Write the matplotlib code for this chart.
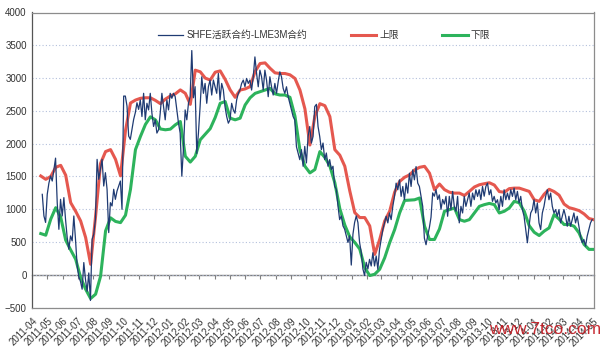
import matplotlib
matplotlib.use('Agg')
import matplotlib.pyplot as plt
import matplotlib.dates as mdates
import pandas as pd

# ---------------- data ----------------
spread_start = '2011-04-21'
spread_freq = '80h'
spread = [1228, 898, 800, 1230, 1400, 1508, 1431, 1609, 1780, 1100, 695, 1152, 898, 1178, 848, 569, 391, 594, 518, 898,
          543, 137, -30, -100, -218, 188, -66, -250, 30, -390, 543, 619, 848, 1761, 1457, 1609, 1761, 1355, 1558, 1305,
          645, 1101, 1051, 1305, 1152, 1279, 1355, 1431, 1000, 2726, 2726, 2574, 2117, 2066, 2218, 2370, 2472, 2624, 2523,
          2667, 2414, 2768, 2364, 2616, 2515, 2768, 2465, 2263, 2364, 2162, 2212, 2465, 2768, 2566, 2364, 2667, 2515, 2768,
          2692, 2768, 2717, 2515, 2313, 2162, 1505, 1930, 2515, 2364, 2616, 2717, 3420, 2700, 2869, 1850, 2162, 2566, 3020,
          2768, 2919, 2616, 2869, 2970, 2742, 2970, 2869, 2768, 3070, 2667, 2919, 2818, 2566, 2414, 2313, 2364, 2616, 2515,
          2465, 2667, 2768, 2818, 2919, 2970, 2869, 2995, 2919, 2970, 2818, 3020,
          3323, 3070, 2868, 3121, 3020, 2818, 3121, 2969, 2717, 3020, 2868, 2742, 2919, 2767, 2944, 3096, 3020, 2843, 2767,
          2868, 2717, 2616, 2515, 2414, 2363, 1954, 1858, 1757, 1909, 1656, 1959, 1707, 2111, 2262, 2010, 2111, 2565, 2600,
          2262, 2111, 1909, 2010, 1757, 1858, 1656, 1757, 1606, 1656, 1353, 1303, 1050, 843, 899, 747, 697, 596, 495, 596,
          150, 620, 798, 899, 798, 495, 343, 91, -10, 192, 91,
          237, 136, 338, 136, 288, 86, 389, 540, 692, 793, 894, 793, 944, 843, 1045, 1197, 1399, 1298, 1449, 1197, 1348,
          1146, 1399, 1247, 1550, 1348, 1601, 1449, 1651, 1399, 1348, 1197, 1045, 560, 460, 600, 720, 880, 1250, 1200, 1300,
          1150, 1220, 1000, 1150, 1080, 1197, 894, 1197, 995, 1273, 1045, 970, 1197, 793, 1045, 944, 1197, 1045, 1146, 1247,
          1045, 1247, 1146, 1298, 1197, 1298, 1146, 1348,
          1200, 1348, 1399, 1222, 1298, 1121, 1197, 1096, 1146, 995, 1197, 1045, 1298, 1146, 1247, 1146, 1298, 1197, 1323,
          1146, 1273, 1096, 1197, 995, 894, 692, 490, 742, 944, 995, 1146, 944, 1096, 793, 692, 944, 1045, 1197, 1298, 1146,
          1247, 1045, 944, 995, 894, 995, 793, 894, 995, 894, 742, 894, 742, 843, 944, 793, 894, 742, 591, 490, 540, 439,
          591, 692, 793, 843]

band_start = '2011-04-18'
band_freq = '10D'
upper = [1508, 1457, 1500, 1640, 1670, 1520, 1101, 970, 822, 570, 162, 898, 1700, 1880, 1910, 1761, 1510, 2200, 2620,
         2665, 2692, 2700, 2700, 2660, 2610, 2680, 2727, 2760, 2820, 2768, 2600, 3121, 3096, 3000, 2970, 3090, 3110, 2980,
         2820, 2707, 2818, 2835, 2870, 3100, 3222, 3232, 3150, 3080, 3070, 3070, 3050, 2995, 2818, 2530, 1980, 2420, 2610,
         2580, 2414, 1909, 1825, 1656, 1280, 949, 874, 874, 747, 313, 540, 820, 970, 1260, 1424, 1488, 1525, 1600, 1640,
         1655, 1550, 1298, 1385, 1300, 1260, 1247, 1247, 1210, 1273, 1340, 1374, 1390, 1405, 1370, 1270, 1260, 1315, 1323,
         1323, 1298, 1273, 1146, 1121, 1230, 1305, 1270, 1215, 1080, 1025, 1005, 980, 930, 860, 840]
lower = [630, 605, 850, 1025, 880, 530, 380, 239, -40, -218, -360, -294, -20, 670, 870, 815, 797, 910, 1305, 1910,
         2111, 2294, 2410, 2364, 2225, 2212, 2222, 2288, 2338, 1808, 1720, 1808, 2060, 2145, 2230, 2400, 2616, 2642, 2390,
         2364, 2389, 2590, 2700, 2767, 2793, 2818, 2843, 2760, 2742, 2742, 2707, 2420, 1900, 1656, 1555, 1606, 1880, 1790,
         1660, 1404, 1010, 760, 580, 495, 394, 110, -10, 10, 86, 260, 490, 690, 944, 1135, 1140, 1145, 1172, 742, 540, 540,
         700, 970, 995, 1020, 843, 818, 843, 944, 1045, 1071, 1090, 1071, 944, 970, 1020, 1121, 1100, 970, 750, 650, 600,
         667, 717, 920, 850, 768, 768, 742, 640, 465, 389, 389]

y_ticks = list(range(-500, 4001, 500))
x_range = ('2011-04-01', '2014-05-01')
series_labels = ['SHFE活跃合约-LME3M合约', '上限', '下限']
watermark = 'www.7tco.com'

# ---------------- plot ----------------
spread_dates = pd.date_range(spread_start, periods=len(spread), freq=spread_freq)
band_dates = pd.date_range(band_start, periods=len(upper), freq=band_freq)

W, H = 601, 353
fig = plt.figure(figsize=(W / 100, H / 100), dpi=100)
ax = fig.add_axes([32.3 / W, 1 - 307.7 / H, (593.5 - 32.3) / W, (307.7 - 12.5) / H])

ax.plot(band_dates, upper, color='#E5584F', lw=2.2, label=series_labels[1], zorder=3, solid_joinstyle='round')
ax.plot(band_dates, lower, color='#2DB35C', lw=2.2, label=series_labels[2], zorder=3, solid_joinstyle='round')
ax.plot(spread_dates, spread, color='#1F3B73', lw=0.9, label=series_labels[0], zorder=4)

ax.set_ylim(y_ticks[0], y_ticks[-1])
ax.set_yticks(y_ticks)
ax.set_xlim(pd.Timestamp(x_range[0]), pd.Timestamp(x_range[1]))

for s in ax.spines.values():
    s.set_color('#8C8C8C')
    s.set_linewidth(0.9)
ax.spines['left'].set_color('#555555')

ax.yaxis.grid(True, linestyle=(0, (1, 2)), color='#B4C0DC', lw=0.8)
ax.set_axisbelow(True)

tickfont = dict(family=['Liberation Sans', 'DejaVu Sans'], size=7, color='#333333')
ax.tick_params(axis='y', length=0, pad=4)
for lab in ax.get_yticklabels():
    lab.set(**tickfont)

ax.xaxis.set_major_locator(mdates.MonthLocator())
ax.xaxis.set_major_formatter(mdates.DateFormatter('%Y-%m'))
ax.tick_params(axis='x', length=0, pad=6)
for lab in ax.get_xticklabels():
    lab.set(**tickfont)
    lab.set_rotation(45)
    lab.set_ha('right')
    lab.set_rotation_mode('anchor')

# zero axis line with month tick marks
zero_frac = (0 - y_ticks[0]) / (y_ticks[-1] - y_ticks[0])
sec = ax.secondary_xaxis(zero_frac)
sec.xaxis.set_major_locator(mdates.MonthLocator())
sec.xaxis.set_major_formatter(plt.NullFormatter())
sec.tick_params(axis='x', direction='out', length=3, width=0.8, color='#808080')
sec.spines['bottom'].set_color('#808080')
sec.spines['bottom'].set_linewidth(1.0)

h, l = ax.get_legend_handles_labels()
order = [2, 0, 1]
leg = fig.legend([h[i] for i in order], [l[i] for i in order], loc='center', bbox_to_anchor=(324 / W, 1 - 35 / H),
                 ncol=3, frameon=False, handlelength=2.6, columnspacing=4.5, handletextpad=0.3,
                 prop=dict(family=['Liberation Sans', 'Noto Sans CJK SC'], size=7))
for t in leg.get_texts():
    t.set_color('#333333')

fig.text(1.0, 1 - 329 / H, watermark, color='#C0141C', ha='right', va='center',
         fontsize=12.5, family=['Liberation Sans', 'DejaVu Sans'], alpha=0.9)

fig.savefig('out.png', dpi=100)
